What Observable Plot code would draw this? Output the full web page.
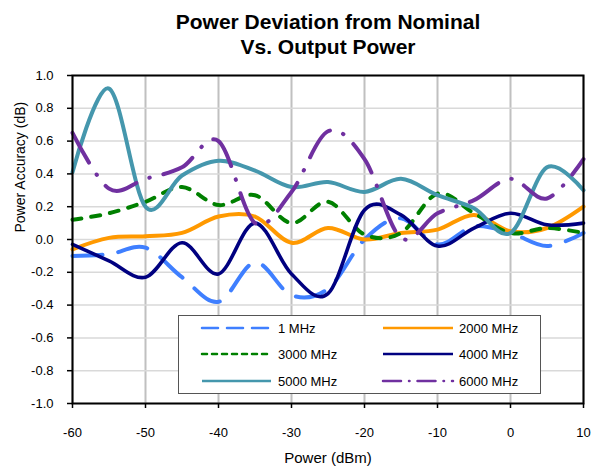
<!DOCTYPE html>
<html><head><meta charset="utf-8">
<script src="https://cdn.jsdelivr.net/npm/d3@7"></script>
<script src="https://cdn.jsdelivr.net/npm/@observablehq/plot@0.6"></script>
<style>
body{margin:0;background:#fff;font-family:"Liberation Sans",Arial,sans-serif;}
#wrap{position:relative;width:592px;height:467px;}
#legend{position:absolute;left:0;top:0;}
</style></head><body><div id="wrap"></div>
<script>
const power = [-60,-55,-50,-45,-40,-35,-30,-25,-20,-15,-10,-5,0,5,10];
const mhz1    = [-0.10,-0.09,-0.05,-0.23,-0.38,-0.14,-0.34,-0.30,0.00,0.13,-0.03,0.08,0.04,-0.04,0.04];
const mhz2000 = [-0.06,0.01,0.02,0.04,0.14,0.14,-0.02,0.07,0.00,0.04,0.06,0.15,0.05,0.07,0.20];
const mhz3000 = [0.12,0.16,0.23,0.32,0.21,0.27,0.10,0.23,0.03,0.04,0.28,0.16,0.04,0.07,0.04];
const mhz4000 = [-0.03,-0.13,-0.23,-0.02,-0.21,0.10,-0.21,-0.33,0.18,0.15,-0.04,0.07,0.16,0.09,0.10];
const mhz5000 = [0.41,0.92,0.20,0.39,0.48,0.42,0.32,0.35,0.29,0.37,0.27,0.19,0.04,0.44,0.30];
const mhz6000 = [0.65,0.31,0.37,0.44,0.60,0.10,0.29,0.66,0.49,0.01,0.16,0.24,0.37,0.25,0.49];
const seriesNames = ["1 MHz","2000 MHz","3000 MHz","4000 MHz","5000 MHz","6000 MHz"];
const seriesValues = [mhz1,mhz2000,mhz3000,mhz4000,mhz5000,mhz6000];
const xTicks = [-60,-50,-40,-30,-20,-10,0,10];
const yTicks = [-1,-0.8,-0.6,-0.4,-0.2,0,0.2,0.4,0.6,0.8,1];
const titleLines = ["Power Deviation from Nominal","Vs. Output Power"];

const colors = ["#3f7fff","#ff9900","#008000","#000080","#4597ad","#7030a0"];
const dashes = ["30,16",null,"9,10",null,null,"34,14,0.5,14"];
const legendDashes = ["16,9",null,"5,5",null,null,"18,8,0.5,8"];
const widths = [4,4,4,3.6,4,4];

const lines = seriesNames.map((name,i) => {
  const rows = power.map((p,j) => ({x:p, y:seriesValues[i][j]}));
  return Plot.line(rows, {x:"x", y:"y", curve:"cardinal", stroke:colors[i],
    strokeWidth:widths[i], strokeDasharray:dashes[i], strokeLinecap:"round", strokeLinejoin:"round"});
});

const chart = Plot.plot({
  width:592, height:467,
  marginLeft:72, marginRight:9, marginTop:75, marginBottom:64,
  style:{fontFamily:"Liberation Sans, Arial, sans-serif", fontSize:"13px", color:"#000", background:"#fff"},
  x:{domain:[-60,10]},
  y:{domain:[-1,1]},
  marks:[
    Plot.gridX(xTicks,{stroke:"#c0c0c0", strokeWidth:2, strokeOpacity:1}),
    Plot.gridY(yTicks,{stroke:"#d9d9d9", strokeWidth:1.5, strokeOpacity:1}),
    ...lines,
    Plot.frame({stroke:"#000", strokeWidth:2}),
    Plot.axisX({ticks:xTicks, tickFormat:d=>String(d), tickSize:5, tickPadding:19, fontSize:13, label:null, strokeWidth:1.5}),
    Plot.axisY({ticks:yTicks, tickFormat:d=>d.toFixed(1), tickSize:5, tickPadding:14, fontSize:13, label:null, strokeWidth:1.5}),
    Plot.text([titleLines[0]],{frameAnchor:"top", dy:-61, fontSize:21, fontWeight:"bold", text:d=>d}),
    Plot.text([titleLines[1]],{frameAnchor:"top", dy:-36, fontSize:21, fontWeight:"bold", text:d=>d}),
    Plot.text(["Power (dBm)"],{frameAnchor:"bottom", dy:59, fontSize:15, text:d=>d}),
    Plot.text(["Power Accuracy (dB)"],{frameAnchor:"left", dx:-52, dy:-7, rotate:-90, fontSize:14, text:d=>d})
  ]
});
const wrap = document.getElementById("wrap");
wrap.appendChild(chart);

// legend overlay
const lg = d3.select(wrap).append("svg").attr("id","legend").attr("width",592).attr("height",467)
  .style("font-family","Liberation Sans, Arial, sans-serif");
lg.append("rect").attr("x",178.5).attr("y",315.5).attr("width",362).attr("height",78)
  .attr("fill","#fff").attr("stroke","#555").attr("stroke-width",1);
const cols = [{x1:202,x2:271,tx:278},{x1:383,x2:453,tx:459}];
const rowsY = [328,354,381];
seriesNames.forEach((name,i) => {
  const c = cols[i%2], ry = rowsY[Math.floor(i/2)];
  lg.append("line").attr("x1",c.x1).attr("x2",c.x2).attr("y1",ry).attr("y2",ry)
    .attr("stroke",colors[i]).attr("stroke-width",2.5)
    .attr("stroke-dasharray",legendDashes[i]).attr("stroke-linecap", legendDashes[i] ? "round" : "butt");
  lg.append("text").attr("x",c.tx).attr("y",ry).attr("dy","0.35em").attr("font-size",13).text(name);
});
</script></body></html>
